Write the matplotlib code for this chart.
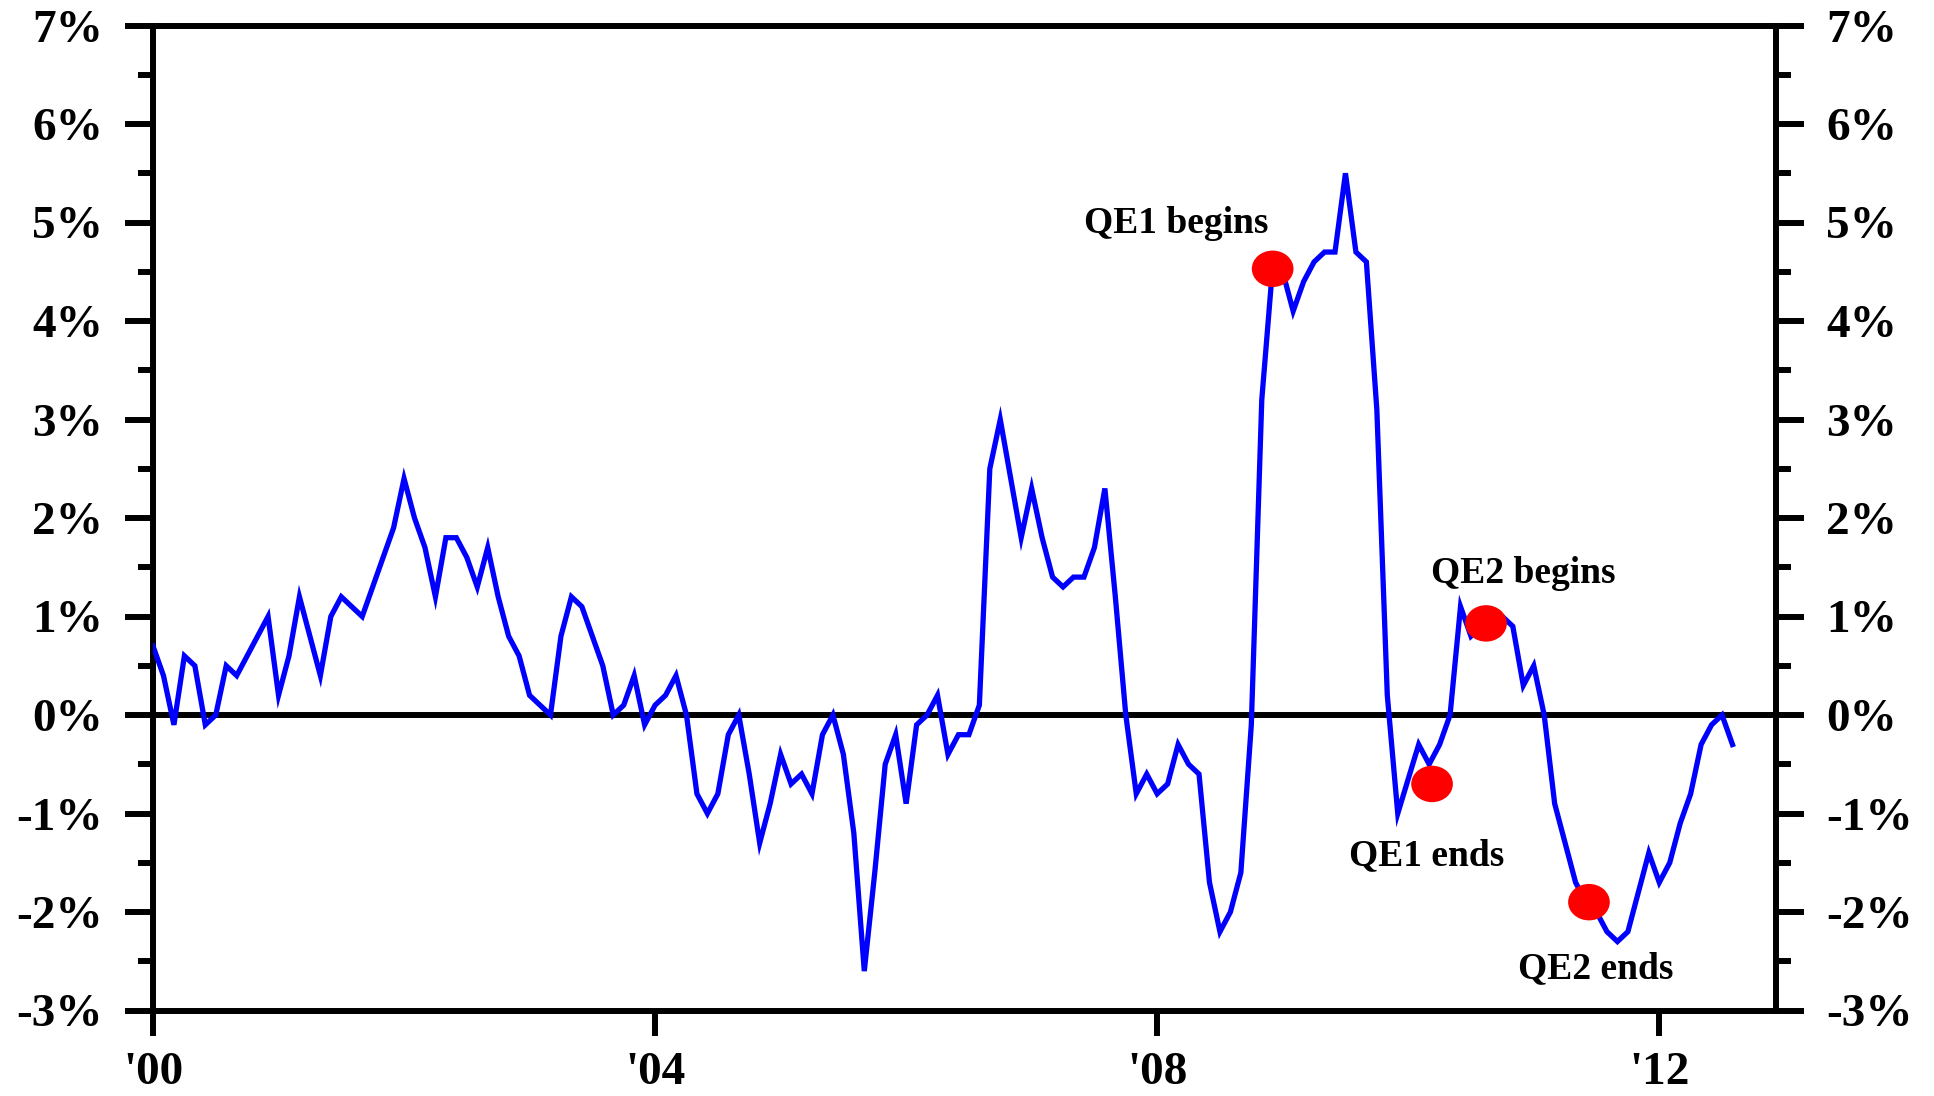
import matplotlib
matplotlib.use("Agg")
import matplotlib.pyplot as plt
import matplotlib.patches as patches
from matplotlib.ticker import MultipleLocator, FixedLocator

# monthly values, Jan 2000 .. Aug 2012 (%)
start_year = 2000
values = [
    0.7, 0.4, -0.1, 0.6, 0.5, -0.1, 0.0, 0.5, 0.4, 0.6, 0.8, 1.0,        # 2000
    0.2, 0.6, 1.2, 0.8, 0.4, 1.0, 1.2, 1.1, 1.0, 1.3, 1.6, 1.9,          # 2001
    2.4, 2.0, 1.7, 1.2, 1.8, 1.8, 1.6, 1.3, 1.7, 1.2, 0.8, 0.6,          # 2002
    0.2, 0.1, 0.0, 0.8, 1.2, 1.1, 0.8, 0.5, 0.0, 0.1, 0.4, -0.1,         # 2003
    0.1, 0.2, 0.4, 0.0, -0.8, -1.0, -0.8, -0.2, 0.0, -0.6, -1.3, -0.9,   # 2004
    -0.4, -0.7, -0.6, -0.8, -0.2, 0.0, -0.4, -1.2, -2.6, -1.6, -0.5, -0.2,  # 2005
    -0.9, -0.1, 0.0, 0.2, -0.4, -0.2, -0.2, 0.1, 2.5, 3.0, 2.4, 1.8,     # 2006
    2.3, 1.8, 1.4, 1.3, 1.4, 1.4, 1.7, 2.3, 1.2, 0.0, -0.8, -0.6,        # 2007
    -0.8, -0.7, -0.3, -0.5, -0.6, -1.7, -2.2, -2.0, -1.6, -0.1, 3.2, 4.5,  # 2008
    4.5, 4.1, 4.4, 4.6, 4.7, 4.7, 5.5, 4.7, 4.6, 3.1, 0.2, -1.0,         # 2009
    -0.65, -0.3, -0.5, -0.3, 0.0, 1.1, 0.8, 0.9, 1.0, 1.0, 0.9, 0.3,     # 2010
    0.5, 0.0, -0.9, -1.3, -1.7, -1.9, -2.0, -2.2, -2.3, -2.2, -1.8, -1.4,  # 2011
    -1.7, -1.5, -1.1, -0.8, -0.3, -0.1, 0.0, -0.3,                       # 2012
]

# QE events: (label, dot x, dot y, label x, label baseline y)
event_names = ["QE1 begins", "QE1 ends", "QE2 begins", "QE2 ends"]
event_x = [2008.92, 2010.19, 2010.62, 2011.44]
event_y = [4.53, -0.70, 0.93, -1.90]
label_x = [2008.15, 2010.15, 2010.92, 2011.49]
label_y = [4.89, -1.52, 1.34, -2.67]

year_ticks = [2000, 2004, 2008, 2012]
year_labels = ["'00", "'04", "'08", "'12"]
pct_ticks = list(range(-3, 8))

plt.rcParams['font.family'] = ['Liberation Serif', 'DejaVu Serif']
plt.rcParams['font.weight'] = 'bold'

fig = plt.figure(figsize=(19.34, 10.96), dpi=100)
ax = fig.add_axes([153 / 1934, 85.5 / 1096, (1776 - 153) / 1934, (1010.5 - 25.5) / 1096])

xs = [start_year + i / 12 for i in range(len(values))]
ax.axhline(0, color='black', lw=4.3, zorder=2)
ax.plot(xs, values, color='#0000ff', lw=3.8, zorder=3, solid_joinstyle='miter')

for x, y in zip(event_x, event_y):
    ax.add_patch(patches.Ellipse((x, y), 0.332, 0.37, facecolor='#ff0000', edgecolor='none', zorder=4))
for name, x, y in zip(event_names, label_x, label_y):
    ax.text(x, y, name, ha='center', va='baseline', fontsize=27, fontweight='bold', zorder=5)

ax.set_xlim(2000, 2012.93)
ax.set_ylim(-3, 7)

ax.xaxis.set_major_locator(FixedLocator(year_ticks))
ax.set_xticklabels(year_labels)
ax.yaxis.set_major_locator(FixedLocator(pct_ticks))
ax.yaxis.set_minor_locator(MultipleLocator(0.5))
ax.set_yticklabels([f"{t}%" for t in pct_ticks])

for s in ax.spines.values():
    s.set_linewidth(4.3)

ax.tick_params(axis='y', which='major', direction='out', length=20, width=4.3,
               left=True, right=True, labelleft=True, labelright=True, labelsize=34, pad=16)
ax.tick_params(axis='y', which='minor', direction='out', length=11, width=4.3, left=True, right=True)
ax.tick_params(axis='x', which='major', direction='out', length=18, width=4.3, labelsize=34, pad=12)
for lab in ax.get_xticklabels() + ax.get_yticklabels():
    lab.set_fontweight('bold')

fig.savefig("out.png", dpi=100)
